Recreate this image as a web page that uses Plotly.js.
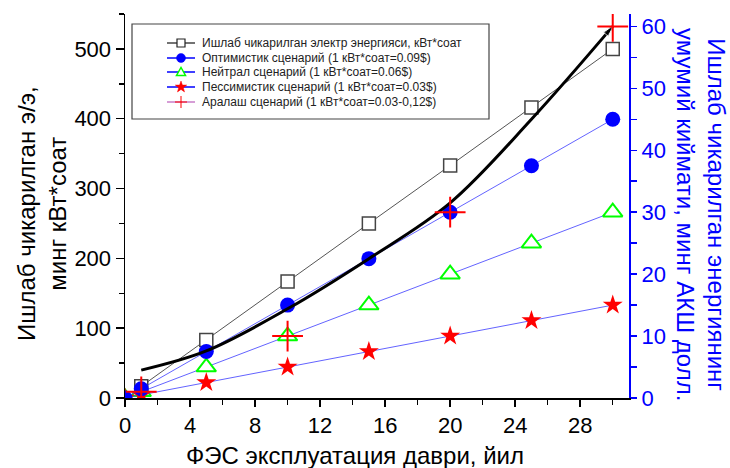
<!DOCTYPE html>
<html>
<head>
<meta charset="utf-8">
<script src="https://cdn.plot.ly/plotly-3.0.1.min.js"></script>
<style>
  html, body { margin: 0; padding: 0; background: #fff; }
  #chart { width: 730px; height: 468px; }
</style>
</head>
<body>
<div id="chart"></div>
<script>
// Operating years of the solar plant
const years = [0, 1, 5, 10, 15, 20, 25, 30];
const energyYears = [1, 5, 10, 15, 20, 25, 30];

// Generated electricity, thousand kWh (left axis)
const energy = [16.7, 83, 167, 250, 333, 416, 500];

// Total value of the generated energy, thousand USD (right axis)
const optimistic = [0, 1.5, 7.5, 15, 22.5, 30, 37.5, 45];   // 0.09 $/kWh
const neutral    = [0, 1, 5, 10, 15, 20, 25, 30];           // 0.06 $/kWh
const pessimistic = [0, 0.5, 2.5, 5, 7.5, 10, 12.5, 15];    // 0.03 $/kWh

// Mixed tariff scenario (0.03-0.12 $/kWh)
const mixedYears = [1, 10, 20, 30];
const mixed = [1, 10, 30, 60];

// Trend curve of the mixed scenario
const trendYears = [1, 5, 10, 15, 20, 25, 30];
const trend = [4.5, 7.6, 14.4, 22.5, 31.5, 45, 60];

const legendLabels = [
  'Ишлаб чикарилган электр энергияси, кВт*соат',
  'Оптимистик сценарий (1 кВт*соат=0.09$)',
  'Нейтрал сценарий (1 кВт*соат=0.06$)',
  'Пессимистик сценарий (1 кВт*соат=0.03$)',
  'Аралаш сценарий (1 кВт*соат=0.03-0,12$)'
];

const FONT = 'Liberation Sans, Arial, sans-serif';
const BLUE = '#0000ff';
const LINK = 'rgba(60,60,255,0.8)';

// plot area in pixels
const PL = 125, PR = 629, PT = 14, PB = 398;
const px = v => (v - PL) / (PR - PL);
const py = v => (PB - v) / (PB - PT);

const traces = [
  {
    x: energyYears, y: energy, yaxis: 'y', type: 'scatter', mode: 'lines+markers',
    line: { color: '#555', width: 1 },
    marker: { symbol: 'square', size: 13, color: '#fff', line: { color: '#444', width: 1.5 } },
    showlegend: false
  },
  {
    x: years, y: neutral, yaxis: 'y2', type: 'scatter', mode: 'lines+markers',
    line: { color: LINK, width: 1 },
    marker: { symbol: 'triangle-up', size: 17, color: '#fff', line: { color: '#00ff00', width: 2 } },
    showlegend: false
  },
  {
    x: years, y: pessimistic, yaxis: 'y2', type: 'scatter', mode: 'lines+markers',
    line: { color: LINK, width: 1 },
    marker: { symbol: 'star', size: 15, color: '#ff0000', line: { width: 0 } },
    showlegend: false
  },
  {
    x: years, y: optimistic, yaxis: 'y2', type: 'scatter', mode: 'lines+markers',
    line: { color: LINK, width: 1 },
    marker: { symbol: 'circle', size: 15, color: BLUE, line: { width: 0 } },
    showlegend: false
  },
  {
    x: trendYears, y: trend, yaxis: 'y2', type: 'scatter', mode: 'lines+markers',
    line: { color: '#000', width: 3, shape: 'spline', smoothing: 1 },
    marker: {
      symbol: 'arrow', angleref: 'previous', color: '#000',
      size: trendYears.map((_, i) => i === trendYears.length - 1 ? 11 : 0)
    },
    showlegend: false
  },
  {
    x: mixedYears, y: mixed, yaxis: 'y2', type: 'scatter', mode: 'markers',
    marker: { symbol: 'cross-thin', size: 22, color: '#ff0000', line: { color: '#ff0000', width: 2 } },
    showlegend: false
  }
];

// legend box, sample lines, symbols and labels
const rowY = [43, 58, 72, 87, 102];
const lineColors = ['#444', BLUE, BLUE, BLUE, '#c87dc8'];
const shapes = [
  { type: 'rect', xref: 'paper', yref: 'paper', x0: px(132), x1: px(489), y0: py(24), y1: py(119),
    line: { color: '#444', width: 1.2 }, fillcolor: '#fff', layer: 'above' }
];
const mx = px(181);
rowY.forEach((r, i) => {
  shapes.push({ type: 'line', xref: 'paper', yref: 'paper', x0: px(167), x1: px(195), y0: py(r), y1: py(r),
    line: { color: lineColors[i], width: 1.5 }, layer: 'above' });
});
function pixShape(extra, row) {
  return Object.assign({ xref: 'paper', yref: 'paper', xsizemode: 'pixel', ysizemode: 'pixel',
    xanchor: mx, yanchor: py(rowY[row]), layer: 'above' }, extra);
}
shapes.push(pixShape({ type: 'rect', x0: -4, x1: 4, y0: -4, y1: 4, fillcolor: '#fff', line: { color: '#222', width: 1.2 } }, 0));
shapes.push(pixShape({ type: 'circle', x0: -4.5, x1: 4.5, y0: -4.5, y1: 4.5, fillcolor: BLUE, line: { color: BLUE, width: 0.5 } }, 1));
shapes.push(pixShape({ type: 'path', path: 'M-4.5,-3.5 L4.5,-3.5 L0,4.5 Z', fillcolor: '#fff', line: { color: '#00ff00', width: 1.5 } }, 2));
shapes.push(pixShape({ type: 'path',
  path: 'M0,6 L-1.4,1.9 L-5.7,1.9 L-2.3,-0.7 L-3.5,-4.9 L0,-2.4 L3.5,-4.9 L2.3,-0.7 L5.7,1.9 L1.4,1.9 Z',
  fillcolor: '#ff0000', line: { color: '#ff0000', width: 0.5 } }, 3));
shapes.push(pixShape({ type: 'line', x0: -6, x1: 6, y0: 0, y1: 0, line: { color: '#ff0000', width: 1 } }, 4));
shapes.push(pixShape({ type: 'line', x0: 0, x1: 0, y0: -6, y1: 6, line: { color: '#ff0000', width: 1 } }, 4));

const annotations = legendLabels.map((t, i) => ({
  text: t, xref: 'paper', yref: 'paper', x: px(200), y: py(rowY[i]),
  xanchor: 'left', yanchor: 'middle', showarrow: false,
  font: { family: FONT, size: 12, color: '#222' }
}));

// axis titles
annotations.push({
  text: 'ФЭС эксплуатация даври, йил', xref: 'paper', yref: 'paper',
  x: px(355), y: py(455), xanchor: 'center', yanchor: 'middle', showarrow: false,
  font: { family: FONT, size: 24, color: '#000' }
});
annotations.push({
  text: 'Ишлаб чикарилган э/э,<br>минг кВт*соат', xref: 'paper', yref: 'paper',
  x: px(42), y: py(214), xanchor: 'center', yanchor: 'middle', showarrow: false, textangle: -90,
  font: { family: FONT, size: 24, color: '#000' }
});
annotations.push({
  text: 'Ишлаб чикарилган энергиянинг<br>умумий киймати, минг АКШ долл.', xref: 'paper', yref: 'paper',
  x: px(701), y: py(214), xanchor: 'center', yanchor: 'middle', showarrow: false, textangle: 90,
  font: { family: FONT, size: 24, color: BLUE }
});

const layout = {
  width: 730, height: 468,
  margin: { l: PL, r: 730 - PR, t: PT, b: 468 - PB, pad: 0 },
  paper_bgcolor: '#fff', plot_bgcolor: '#fff',
  font: { family: FONT, size: 22, color: '#000' },
  showlegend: false,
  xaxis: {
    range: [0, 31], tick0: 0, dtick: 4, ticks: 'outside', ticklen: 7, tickwidth: 1.5,
    minor: { dtick: 2, ticks: 'outside', ticklen: 5, tickwidth: 1.5, tickcolor: '#000' },
    showline: true, linecolor: '#000', linewidth: 1.5, showgrid: false, zeroline: false,
    tickfont: { family: FONT, size: 22, color: '#000' }, tickcolor: '#000'
  },
  xaxis2: {
    range: [0, 31], overlaying: 'x', side: 'top', anchor: 'y', tick0: 0, dtick: 2,
    ticks: 'inside', ticklen: 5, tickwidth: 1.5, tickcolor: '#000',
    showticklabels: false, showline: true, linecolor: '#000', linewidth: 1.5,
    showgrid: false, zeroline: false
  },
  yaxis: {
    range: [0, 550], tick0: 0, dtick: 100, ticks: 'outside', ticklen: 8, tickwidth: 1.5,
    minor: { dtick: 50, ticks: 'outside', ticklen: 5, tickwidth: 1.5, tickcolor: '#000' },
    showline: true, linecolor: '#000', linewidth: 1.5, showgrid: false, zeroline: false,
    tickfont: { family: FONT, size: 22, color: '#000' }, tickcolor: '#000'
  },
  yaxis2: {
    range: [0, 62], overlaying: 'y', side: 'right', anchor: 'x', tick0: 0, dtick: 10,
    ticks: 'outside', ticklen: 6, tickwidth: 1.5, tickcolor: BLUE,
    minor: { dtick: 5, ticks: 'outside', ticklen: 6, tickwidth: 1.5, tickcolor: BLUE },
    showline: true, linecolor: BLUE, linewidth: 2, showgrid: false, zeroline: false,
    tickfont: { family: FONT, size: 22, color: BLUE }
  },
  shapes: shapes,
  annotations: annotations
};

Plotly.newPlot('chart', traces, layout, { staticPlot: true, displayModeBar: false });
</script>
</body>
</html>
